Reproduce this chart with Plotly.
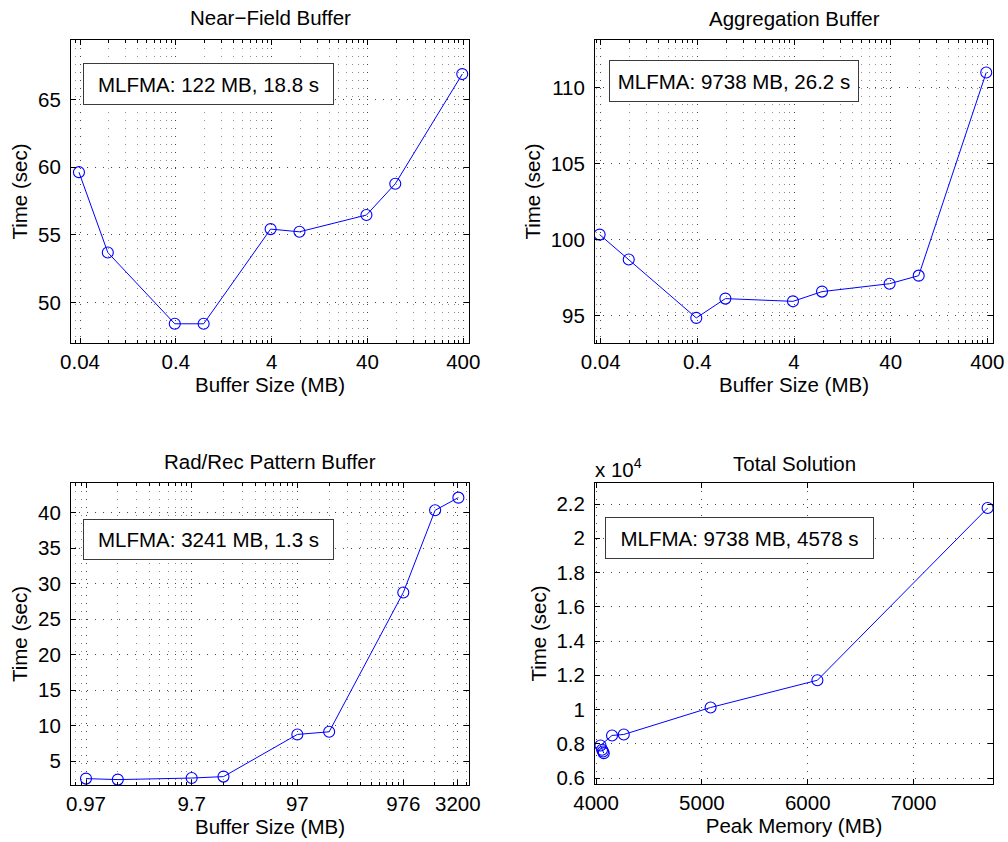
import math
import plotly.graph_objects as go

# ---- data -------------------------------------------------------------
nf_size = [0.039, 0.078, 0.39, 0.78, 3.9, 7.8, 39, 78, 390]
nf_time = [59.63, 53.69, 48.42, 48.42, 55.42, 55.22, 56.46, 58.77, 66.88]

ag_size = [0.039, 0.078, 0.39, 0.78, 3.9, 7.8, 39, 78, 390]
ag_time = [100.33, 98.69, 94.85, 96.12, 95.94, 96.58, 97.10, 97.63, 110.99]

rr_size = [0.97, 1.94, 9.7, 19.4, 97, 194, 976, 1952, 3241]
rr_time = [2.53, 2.39, 2.61, 2.81, 8.75, 9.12, 28.74, 40.32, 42.10]

tot_mem = [4073, 4066, 4057, 4042, 4151, 4262, 5082, 6091, 7699]
tot_time = [7450, 7550, 7650, 7900, 8485, 8543, 10117, 11708, 21766]

buf_ticks = [0.04, 0.4, 4, 40, 400]
buf_labels = ["0.04", "0.4", "4", "40", "400"]
rr_ticks = [0.97, 9.7, 97, 976, 3200]
rr_labels = ["0.97", "9.7", "97", "976", "3200"]
nf_yticks = [50, 55, 60, 65]
ag_yticks = [95, 100, 105, 110]
rr_yticks = [5, 10, 15, 20, 25, 30, 35, 40]
tot_xticks = [4000, 5000, 6000, 7000]
tot_yticks = [6000, 8000, 10000, 12000, 14000, 16000, 18000, 20000, 22000]
tot_ylabels = ["0.6", "0.8", "1", "1.2", "1.4", "1.6", "1.8", "2", "2.2"]

titles = ["Near\u2212Field Buffer", "Aggregation Buffer",
          "Rad/Rec Pattern Buffer", "Total Solution"]
notes = ["MLFMA: 122 MB, 18.8 s", "MLFMA: 9738 MB, 26.2 s",
         "MLFMA: 3241 MB, 1.3 s", "MLFMA: 9738 MB, 4578 s"]

# ---- styling ----------------------------------------------------------
W, H = 1008, 842
FONT = "Liberation Sans, Arial, Helvetica, sans-serif"
FS = 20.5
BLUE = "#0000ff"
GRID = "#444444"
MINOR = "#8a8a8a"
DASH = "1px,7px"


def px_x(p):
    return p / W


def px_y(p):
    return 1 - p / H


def log_minor(base, lo, hi):
    vals = []
    for n in range(-4, 6):
        for k in range(2, 10):
            v = k * base * 10 ** n
            if lo < math.log10(v) < hi:
                vals.append(v)
    return vals


# panel boxes in pixels: left, right, top, bottom
boxes = [(71, 469, 40, 343), (595, 993, 40, 343),
         (71, 469, 483, 785), (595, 993, 483, 784)]


def dom(b):
    l, r, t, bt = b
    return [px_x(l), px_x(r)], [px_y(bt), px_y(t)]


fig = go.Figure()

series = [(nf_size, nf_time), (ag_size, ag_time), (rr_size, rr_time),
          (tot_mem, tot_time)]
for i, (xs, ys) in enumerate(series):
    sfx = "" if i == 0 else str(i + 1)
    fig.add_trace(go.Scatter(
        x=xs, y=ys, mode="lines+markers", xaxis="x" + sfx, yaxis="y" + sfx,
        line=dict(color=BLUE, width=1),
        marker=dict(symbol="circle-open", size=11,
                    line=dict(color=BLUE, width=1.1), color=BLUE),
        showlegend=False, cliponaxis=True))

common_axis = dict(
    showline=True, linecolor="black", linewidth=1, mirror="ticks",
    ticks="inside", ticklen=5, tickcolor="black", tickwidth=1,
    showgrid=True, gridcolor=GRID, griddash=DASH, gridwidth=1,
    zeroline=False, automargin=False,
    tickfont=dict(family=FONT, size=FS, color="black"),
    title_font=dict(family=FONT, size=FS, color="black"),
    fixedrange=True,
)

x_ranges = [[-1.492, 2.6615], [-1.457, 2.661], [-0.1552, 3.6112], [3990, 7750]]
y_ranges = [[47.0, 69.4], [93.2, 113.13], [1.63, 44.16], [5650, 23226]]
bases = [0.04, 0.04, 0.97, None]
xt = [(buf_ticks, buf_labels), (buf_ticks, buf_labels), (rr_ticks, rr_labels),
      (tot_xticks, [str(v) for v in tot_xticks])]
yt = [(nf_yticks, [str(v) for v in nf_yticks]),
      (ag_yticks, [str(v) for v in ag_yticks]),
      (rr_yticks, [str(v) for v in rr_yticks]),
      (tot_yticks, tot_ylabels)]
xtitles = ["Buffer Size (MB)", "Buffer Size (MB)", "Buffer Size (MB)",
           "Peak Memory (MB)"]

layout = dict(
    width=W, height=H, margin=dict(l=0, r=0, t=0, b=0, autoexpand=False),
    paper_bgcolor="white", plot_bgcolor="white",
    font=dict(family=FONT, size=FS, color="black"),
)

for i in range(4):
    sfx = "" if i == 0 else str(i + 1)
    xd, yd = dom(boxes[i])
    xa = dict(common_axis)
    xa.update(domain=xd, anchor="y" + sfx, range=x_ranges[i],
              tickmode="array", tickvals=xt[i][0], ticktext=xt[i][1],
              ticklabelstandoff=0,
              title=dict(text=xtitles[i], standoff=5))
    if bases[i] is not None:
        xa["type"] = "log"
        xa["minor"] = dict(tickmode="array",
                           tickvals=log_minor(bases[i], *x_ranges[i]),
                           ticks="inside", ticklen=3, tickcolor="black",
                           showgrid=True, gridcolor=MINOR, griddash=DASH,
                           gridwidth=1)
    ya = dict(common_axis)
    ya.update(domain=yd, anchor="x" + sfx, range=y_ranges[i],
              tickmode="array", tickvals=yt[i][0], ticktext=yt[i][1],
              ticklabelstandoff=5,
              title=dict(text="Time (sec)", standoff=4))
    layout["xaxis" + sfx] = xa
    layout["yaxis" + sfx] = ya

fig.update_layout(**layout)

# panel titles
title_y = [18, 19, 461, 463]
for i in range(4):
    l, r, t, b = boxes[i]
    fig.add_annotation(text=titles[i], xref="paper", yref="paper",
                       x=px_x((l + r) / 2), y=px_y(title_y[i]),
                       xanchor="center", yanchor="middle", showarrow=False,
                       font=dict(family=FONT, size=FS, color="black"))

# boxed notes
note_box = [(83, 63, 251, 42), (609, 60, 250, 42),
            (83, 519, 251, 41), (605, 517, 269, 42)]
for i in range(4):
    l, t, w, h = note_box[i]
    fig.add_annotation(text=notes[i], xref="paper", yref="paper",
                       x=px_x(l), y=px_y(t), xanchor="left", yanchor="top",
                       width=w - 2, height=h - 2, align="center",
                       valign="middle", showarrow=False,
                       bgcolor="white", bordercolor="#3a3a3a", borderwidth=1,
                       borderpad=0,
                       font=dict(family=FONT, size=FS, color="black"))

# exponent label of the total-solution time axis
fig.add_annotation(text="x 10<sup>4</sup>", xref="paper", yref="paper",
                   x=px_x(593), y=px_y(483), xanchor="left", yanchor="bottom",
                   showarrow=False, font=dict(family=FONT, size=FS,
                                              color="black"))

fig.write_html("out.html", config={"displayModeBar": False})
